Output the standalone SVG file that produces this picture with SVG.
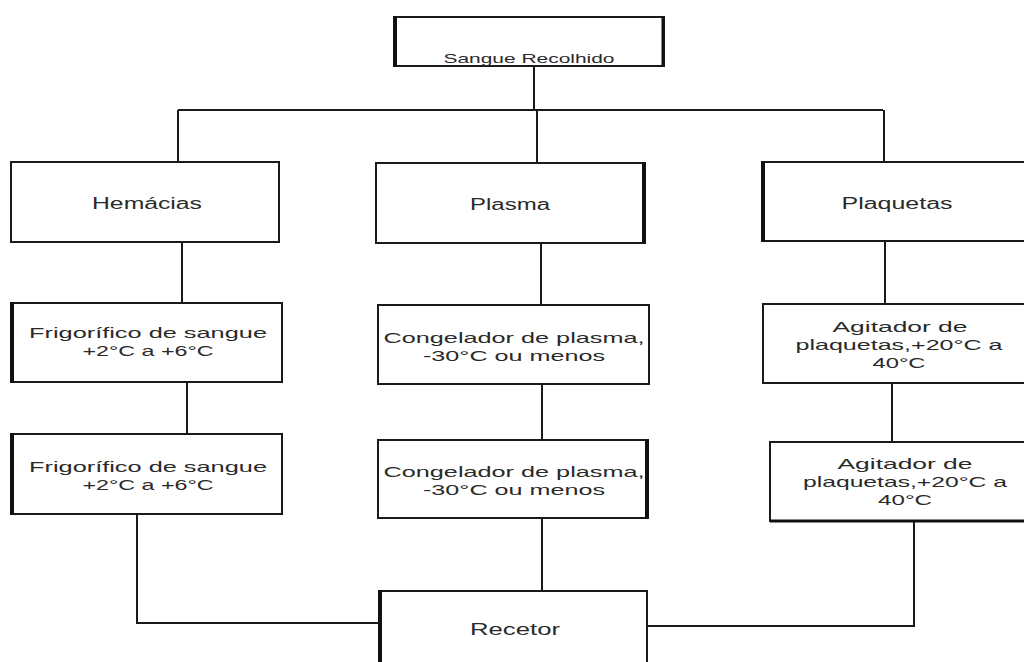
<svg xmlns="http://www.w3.org/2000/svg" width="1024" height="662" viewBox="0 0 1024 662">
<style>
.box{fill:#fff;stroke:#1a1a1a;stroke-width:2}
.thick{stroke:#111;stroke-width:4}
.conn{fill:none;stroke:#1a1a1a;stroke-width:2}
text{font-family:"Liberation Sans",Arial,sans-serif;font-size:15px;fill:#2a2a2a;text-anchor:middle}
.big{font-size:16px}
.small{font-size:13px}
</style>
<rect width="1024" height="662" fill="#fff"/>
<g id="connectors">
<path class="conn" d="M534,66V110M178,110H883M178,110V162M537,110V163M884,110V162"/>
<path class="conn" d="M182,242V303M541,243V305M885,241V304"/>
<path class="conn" d="M187,382V434M542,384V440M892,383V442"/>
<path class="conn" d="M137,514V623H379M542,518V591M914,521V626H647"/>
</g>
<g id="sangue">
<rect class="box" x="394" y="17" width="270" height="49"/>
<line class="thick" x1="395" y1="16" x2="395" y2="67"/>
<line class="thick" x1="663" y1="17" x2="663" y2="66" style="stroke-width:3"/>
<text class="small" x="529" y="63" textLength="171" lengthAdjust="spacingAndGlyphs">Sangue Recolhido</text>
</g>
<g id="hemacias">
<rect class="box" x="11" y="162" width="268" height="80"/>
<text class="big" x="147" y="209" textLength="110" lengthAdjust="spacingAndGlyphs">Hemácias</text>
</g>
<g id="plasma">
<rect class="box" x="376" y="163" width="269" height="80"/>
<line class="thick" x1="644" y1="163" x2="644" y2="243"/>
<text class="big" x="510" y="210" textLength="80" lengthAdjust="spacingAndGlyphs">Plasma</text>
</g>
<g id="plaquetas">
<rect class="box" x="762" y="162" width="280" height="79"/>
<line class="thick" x1="763" y1="161" x2="763" y2="242"/>
<text class="big" x="897" y="209" textLength="111" lengthAdjust="spacingAndGlyphs">Plaquetas</text>
</g>
<g id="frig1">
<rect class="box" x="11" y="303" width="271" height="79"/>
<line class="thick" x1="12" y1="302" x2="12" y2="383"/>
<text x="148" y="338" textLength="238" lengthAdjust="spacingAndGlyphs">Frigorífico de sangue</text>
<text x="148" y="356" textLength="131" lengthAdjust="spacingAndGlyphs">+2°C a +6°C</text>
</g>
<g id="cong1">
<rect class="box" x="378" y="305" width="271" height="79"/>
<text x="514" y="343" textLength="261" lengthAdjust="spacingAndGlyphs">Congelador de plasma,</text>
<text x="514" y="361" textLength="182" lengthAdjust="spacingAndGlyphs">-30°C ou menos</text>
</g>
<g id="agit1">
<rect class="box" x="763" y="304" width="280" height="79"/>
<text x="900" y="332" textLength="135" lengthAdjust="spacingAndGlyphs">Agitador de</text>
<text x="899" y="350" textLength="207" lengthAdjust="spacingAndGlyphs">plaquetas,+20°C a</text>
<text x="899" y="368" textLength="53" lengthAdjust="spacingAndGlyphs">40°C</text>
</g>
<g id="frig2">
<rect class="box" x="11" y="434" width="271" height="80"/>
<line class="thick" x1="12" y1="433" x2="12" y2="515"/>
<text x="148" y="472" textLength="238" lengthAdjust="spacingAndGlyphs">Frigorífico de sangue</text>
<text x="148" y="490" textLength="131" lengthAdjust="spacingAndGlyphs">+2°C a +6°C</text>
</g>
<g id="cong2">
<rect class="box" x="378" y="440" width="270" height="78"/>
<line class="thick" x1="647" y1="440" x2="647" y2="518"/>
<text x="514" y="477" textLength="261" lengthAdjust="spacingAndGlyphs">Congelador de plasma,</text>
<text x="514" y="495" textLength="182" lengthAdjust="spacingAndGlyphs">-30°C ou menos</text>
</g>
<g id="agit2">
<rect class="box" x="770" y="442" width="280" height="79"/>
<line x1="770" y1="521" x2="1024" y2="521" class="thick" style="stroke-width:3"/>
<text x="905" y="469" textLength="135" lengthAdjust="spacingAndGlyphs">Agitador de</text>
<text x="905" y="487" textLength="204" lengthAdjust="spacingAndGlyphs">plaquetas,+20°C a</text>
<text x="905" y="505" textLength="54" lengthAdjust="spacingAndGlyphs">40°C</text>
</g>
<g id="recetor">
<rect class="box" x="379" y="591" width="268" height="90"/>
<line class="thick" x1="380" y1="590" x2="380" y2="662"/>
<text class="big" x="515" y="635" textLength="90" lengthAdjust="spacingAndGlyphs">Recetor</text>
</g>
</svg>
